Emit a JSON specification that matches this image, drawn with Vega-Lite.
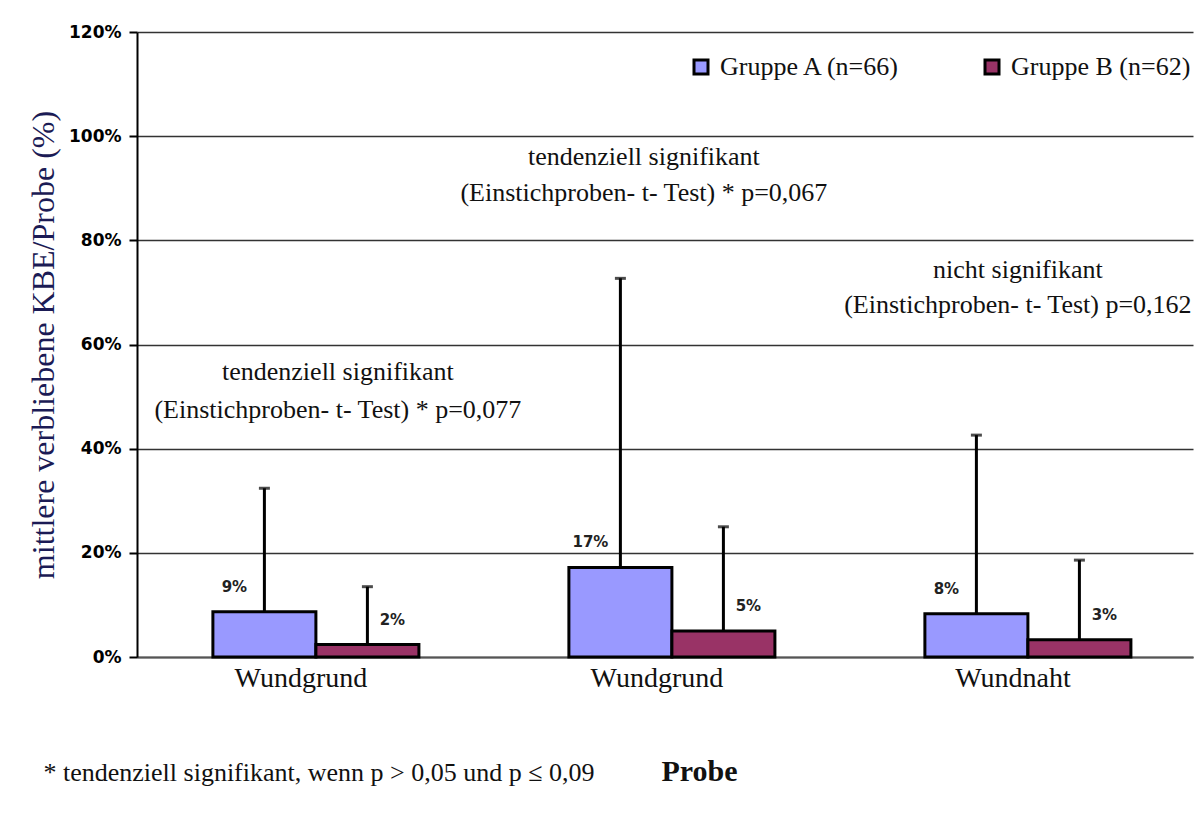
{
  "$schema": "https://vega.github.io/schema/vega-lite/v6.json",
  "width": 1056,
  "height": 625,
  "autosize": {"type": "none"},
  "padding": {"left": 137, "top": 32, "right": 8, "bottom": 157},
  "background": "white",
  "config": {"view": {"stroke": null}, "font": "Liberation Serif"},
  "title": {
    "text": "* tendenziell signifikant, wenn p > 0,05 und p ≤ 0,09",
    "orient": "bottom",
    "anchor": "start",
    "font": "Liberation Serif",
    "fontSize": 26,
    "fontWeight": "normal",
    "color": "#111111",
    "dx": 16,
    "offset": -26
  },
  "datasets": {
    "bars": [
      {"cat": "Wundgrund_1", "group": "Gruppe A (n=66)", "mean": 0.087, "upper": 0.324},
      {"cat": "Wundgrund_1", "group": "Gruppe B (n=62)", "mean": 0.024, "upper": 0.135},
      {"cat": "Wundgrund_2", "group": "Gruppe A (n=66)", "mean": 0.172, "upper": 0.727},
      {"cat": "Wundgrund_2", "group": "Gruppe B (n=62)", "mean": 0.05, "upper": 0.25},
      {"cat": "Wundnaht", "group": "Gruppe A (n=66)", "mean": 0.083, "upper": 0.426},
      {"cat": "Wundnaht", "group": "Gruppe B (n=62)", "mean": 0.033, "upper": 0.186}
    ],
    "ann": [
      {"cat": "Wundgrund_1", "y": 0.547, "text": "tendenziell signifikant"},
      {"cat": "Wundgrund_1", "y": 0.474, "text": "(Einstichproben- t- Test) *  p=0,077"},
      {"cat": "Wundgrund_2", "y": 0.96, "text": "tendenziell signifikant"},
      {"cat": "Wundgrund_2", "y": 0.891, "text": "(Einstichproben- t- Test) *  p=0,067"},
      {"cat": "Wundnaht", "y": 0.743, "text": "nicht signifikant"},
      {"cat": "Wundnaht", "y": 0.676, "text": "(Einstichproben- t- Test) p=0,162"}
    ]
  },
  "encoding": {
    "x": {
      "field": "cat",
      "type": "nominal",
      "sort": ["Wundgrund_1", "Wundgrund_2", "Wundnaht"],
      "scale": {"domain": ["Wundgrund_1", "Wundgrund_2", "Wundnaht"], "paddingInner": 0.4213, "paddingOuter": 0.1938, "align": 0.55},
      "axis": {
        "labelExpr": "datum.value == 'Wundnaht' ? 'Wundnaht' : 'Wundgrund'",
        "labelAngle": 0,
        "labelFont": "Liberation Serif",
        "labelFontSize": 28,
        "labelColor": "#111111",
        "labelPadding": 7,
        "labelOffset": -15,
        "ticks": false,
        "domain": true,
        "domainColor": "#555555",
        "domainWidth": 2,
        "grid": false,
        "title": "Probe",
        "titleFont": "Liberation Serif",
        "titleFontSize": 30,
        "titleFontWeight": "bold",
        "titleColor": "#111111",
        "titleX": 562,
        "titlePadding": 64
      }
    },
    "y": {
      "type": "quantitative",
      "scale": {"domain": [0, 1.2], "nice": false, "zero": true},
      "axis": {
        "values": [0, 0.2, 0.4, 0.6, 0.8, 1.0, 1.2],
        "format": ".0%",
        "labelFont": "DejaVu Sans",
        "labelFontWeight": "bold",
        "labelFontSize": 17,
        "labelColor": "#000000",
        "labelPadding": 8,
        "domain": true,
        "domainColor": "#000000",
        "domainWidth": 2,
        "ticks": true,
        "tickColor": "#000000",
        "tickSize": 8,
        "tickWidth": 2,
        "grid": true,
        "gridColor": "#333333",
        "gridWidth": 1.5,
        "gridOpacity": 1,
        "title": "mittlere verbliebene KBE/Probe (%)",
        "titleFont": "Liberation Serif",
        "titleFontSize": 32,
        "titleFontWeight": "normal",
        "titleColor": "#1b1b55",
        "titlePadding": 8
      }
    }
  },
  "layer": [
    {
      "data": {"name": "bars"},
      "mark": {"type": "bar", "stroke": "#000000", "strokeWidth": 3},
      "encoding": {
        "xOffset": {"field": "group", "type": "nominal", "scale": {"paddingInner": 0, "paddingOuter": 0}},
        "y": {"field": "mean", "type": "quantitative"},
        "color": {
          "field": "group",
          "type": "nominal",
          "scale": {"range": ["#9999FF", "#993366"]},
          "legend": {
            "orient": "none",
            "legendX": 551,
            "legendY": 22,
            "direction": "horizontal",
            "title": null,
            "symbolType": "square",
            "symbolSize": 196,
            "symbolStrokeColor": "#000000",
            "symbolStrokeWidth": 3,
            "labelFont": "Liberation Serif",
            "labelFontSize": 26,
            "labelColor": "#111111",
            "labelLimit": 400,
            "labelOffset": 6,
            "columnPadding": 78,
            "padding": 0
          }
        }
      }
    },
    {
      "data": {"name": "bars"},
      "mark": {"type": "rule", "color": "#000000", "strokeWidth": 3},
      "encoding": {
        "xOffset": {"field": "group", "type": "nominal"},
        "y": {"field": "mean", "type": "quantitative"},
        "y2": {"field": "upper"}
      }
    },
    {
      "data": {"name": "bars"},
      "mark": {"type": "tick", "color": "#000000", "size": 11, "thickness": 3, "orient": "horizontal"},
      "encoding": {
        "xOffset": {"field": "group", "type": "nominal"},
        "y": {"field": "upper", "type": "quantitative"}
      }
    },
    {
      "data": {"name": "bars"},
      "transform": [{"filter": "datum.group == 'Gruppe A (n=66)'"}],
      "mark": {"type": "text", "font": "DejaVu Sans", "fontWeight": "bold", "fontSize": 15, "color": "#222222", "dx": -30, "dy": -25, "baseline": "middle", "align": "center"},
      "encoding": {
        "xOffset": {"field": "group", "type": "nominal"},
        "y": {"field": "mean", "type": "quantitative"},
        "text": {"field": "mean", "type": "quantitative", "format": ".0%"}
      }
    },
    {
      "data": {"name": "bars"},
      "transform": [{"filter": "datum.group == 'Gruppe B (n=62)'"}],
      "mark": {"type": "text", "font": "DejaVu Sans", "fontWeight": "bold", "fontSize": 15, "color": "#222222", "dx": 25, "dy": -25, "baseline": "middle", "align": "center"},
      "encoding": {
        "xOffset": {"field": "group", "type": "nominal"},
        "y": {"field": "mean", "type": "quantitative"},
        "text": {"field": "mean", "type": "quantitative", "format": ".0%"}
      }
    },
    {
      "data": {"name": "ann"},
      "transform": [{"filter": "datum.cat == 'Wundgrund_1'"}],
      "mark": {"type": "text", "font": "Liberation Serif", "fontSize": 26, "color": "#111111", "baseline": "middle", "align": "center", "dx": 22},
      "encoding": {
        "y": {"field": "y", "type": "quantitative"},
        "text": {"field": "text", "type": "nominal"}
      }
    },
    {
      "data": {"name": "ann"},
      "transform": [{"filter": "datum.cat == 'Wundgrund_2'"}],
      "mark": {"type": "text", "font": "Liberation Serif", "fontSize": 26, "color": "#111111", "baseline": "middle", "align": "center", "dx": -28},
      "encoding": {
        "y": {"field": "y", "type": "quantitative"},
        "text": {"field": "text", "type": "nominal"}
      }
    },
    {
      "data": {"name": "ann"},
      "transform": [{"filter": "datum.cat == 'Wundnaht'"}],
      "mark": {"type": "text", "font": "Liberation Serif", "fontSize": 26, "color": "#111111", "baseline": "middle", "align": "center", "dx": -10},
      "encoding": {
        "y": {"field": "y", "type": "quantitative"},
        "text": {"field": "text", "type": "nominal"}
      }
    }
  ]
}
